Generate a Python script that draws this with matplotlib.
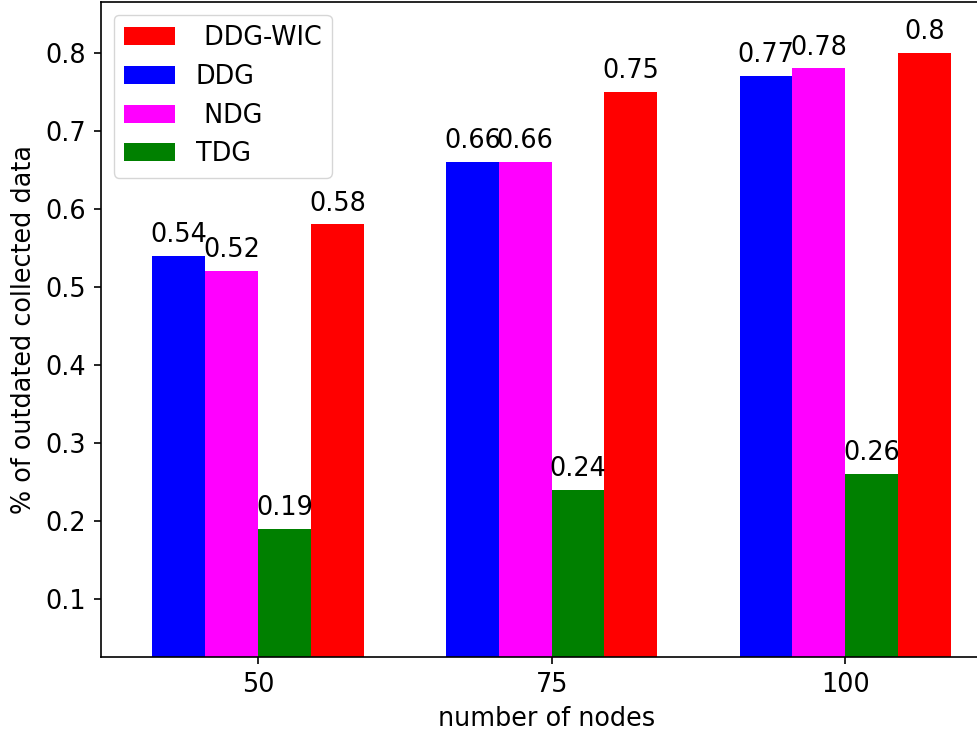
import numpy as np
import matplotlib
matplotlib.use("Agg")
import matplotlib.pyplot as plt

# data
nodes = ["50", "75", "100"]
ddg = [0.54, 0.66, 0.77]
ndg = [0.52, 0.66, 0.78]
tdg = [0.19, 0.24, 0.26]
ddg_wic = [0.58, 0.75, 0.80]

FS = 18.4
w = 0.18
x = np.arange(len(nodes))

fig = plt.figure(figsize=(9.77, 7.34), dpi=100)
ax = fig.add_axes([101 / 977, 77 / 734, 891 / 977, 655 / 734])

b_wic = ax.bar(x + w, ddg_wic, w, color="red", align="edge", label=" DDG-WIC")
b_ddg = ax.bar(x - 2 * w, ddg, w, color="blue", align="edge", label="DDG")
b_ndg = ax.bar(x - w, ndg, w, color="magenta", align="edge", label=" NDG")
b_tdg = ax.bar(x, tdg, w, color="green", align="edge", label="TDG")

for bars in [b_ddg, b_ndg, b_tdg, b_wic]:
    for r in bars:
        h = r.get_height()
        ax.text(r.get_x() + r.get_width() / 2, h + 0.01, "%g" % h,
                ha="center", va="bottom", fontsize=FS)

ax.set_xlim(-0.535, 2.5)
ax.set_ylim(0.0256, 0.865)
ax.set_xticks(x)
ax.set_xticklabels(nodes)
ax.set_yticks([0.1, 0.2, 0.3, 0.4, 0.5, 0.6, 0.7, 0.8])
ax.tick_params(labelsize=FS, length=5.3, width=1.2, pad=5.3)
for s in ax.spines.values():
    s.set_linewidth(1.2)

ax.set_xlabel("number of nodes", fontsize=FS, labelpad=6)
ax.set_ylabel("% of outdated collected data", fontsize=FS, labelpad=6)
ax.legend(loc="upper left", fontsize=FS)

fig.savefig("out.png", dpi=100)
